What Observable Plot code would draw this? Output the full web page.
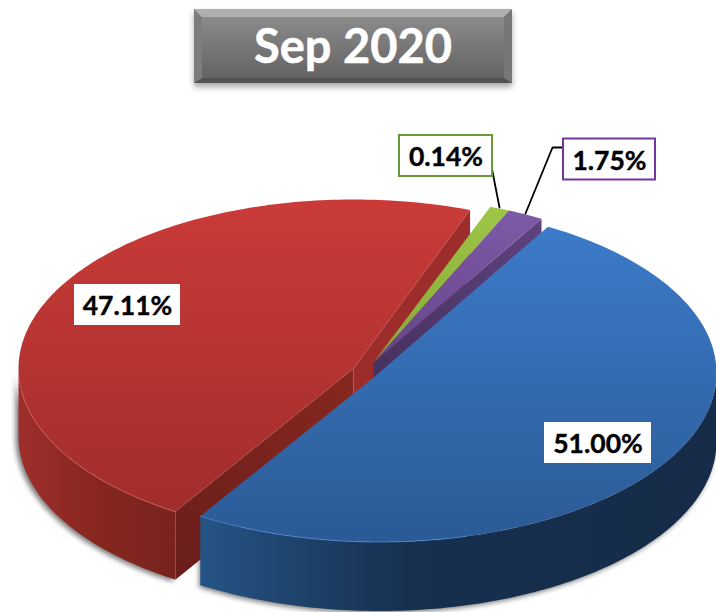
<!DOCTYPE html>
<html><head><meta charset="utf-8">
<script src="https://cdn.jsdelivr.net/npm/d3@7"></script>
<script src="https://cdn.jsdelivr.net/npm/@observablehq/plot@0.6"></script>
<style>
html,body{margin:0;padding:0;background:#fff;}
#wrap{position:relative;width:716px;height:612px;overflow:hidden;}
#title{position:absolute;left:194px;top:9px;width:318px;height:74px;box-sizing:border-box;margin:0;
 border-style:solid;border-width:8px 8px 5px 8px;border-color:#b0b0b0 #777 #525252 #7d7d7d;
 background:linear-gradient(#8a8a8a,#646464);box-shadow:0 4px 6px rgba(0,0,0,.35);
 color:#fff;font:700 47px Lato,sans-serif;text-align:center;line-height:57px;white-space:nowrap;
 -webkit-text-stroke:.5px #fff;}
svg{display:block;position:absolute;left:0;top:0;}
</style></head>
<body><div id="wrap"><h1 id="title">Sep 2020</h1></div>
<script>
// Chart values, in drawing order (clockwise from the start angle)
const categories = ["Blue", "Red", "Green", "Purple"];
const shares = [51.00, 47.11, 0.14, 1.75];
const tickLabels = ["51.00%", "47.11%", "0.14%", "1.75%"];
// The reference draws its smallest slice wider than its share: it takes about this many percent
const minDrawnShare = 0.95;
const startAngle = 30;

// Layout of the exploded 3-D pie, in pixels
const ellipses = {
  Blue:   {apex:[372,378], cx:379, cy:372.5, rx:337, ry:169, depth:69},
  Red:    {apex:[353,368], cx:353, cy:368,   rx:335, ry:169, depth:68},
  Green:  {apex:[373,362], cx:373, cy:362,   rx:336, ry:166, depth:68},
  Purple: {apex:[373,362], cx:373, cy:362,   rx:336, ry:166, depth:68}
};

const drawn = shares.map(v => Math.max(v, minDrawnShare));
const total = d3.sum(drawn);
let cursor = startAngle;
const slices = categories.map((name, i) => {
  const a0 = cursor, a1 = cursor + drawn[i] / total * 360;
  cursor = a1;
  return {name, a0, a1, label: tickLabels[i], ...ellipses[name]};
});
const bySlice = Object.fromEntries(slices.map(s => [s.name, s]));

const rad = a => a * Math.PI / 180;
const rim = (s, a, d = 0) => [s.cx + s.rx * Math.sin(rad(a)), s.cy - s.ry * Math.cos(rad(a)) + d];
const arc = (s, a0, a1, d = 0) => {
  const n = Math.max(2, Math.ceil(Math.abs(a1 - a0)));
  return d3.range(n + 1).map(i => rim(s, a0 + (a1 - a0) * i / n, d));
};
const topFace = s => [s.apex, ...arc(s, s.a0, s.a1)];
const wall = (s, a0, a1) => [...arc(s, a0, a1), ...arc(s, a1, a0, s.depth)];
const cutFace = (s, a) => [s.apex, rim(s, a), rim(s, a, s.depth), [s.apex[0], s.apex[1] + s.depth]];

const poly = (points, fill, extra = {}) => Plot.line(points, {x: d => d[0], y: d => d[1], fill, stroke: "none", curve: "linear", ...extra});
const edge = (points, stroke, width, opacity = 1) => Plot.line(points, {x: d => d[0], y: d => d[1], stroke, strokeWidth: width, strokeOpacity: opacity, curve: "linear"});

const blue = bySlice.Blue, red = bySlice.Red, green = bySlice.Green, purple = bySlice.Purple;

const stop = (o, c) => `<stop offset="${o}" stop-color="${c}"/>`;
const grad = (id, x1, y1, x2, y2, stops) =>
  `<linearGradient id="${id}" gradientUnits="userSpaceOnUse" x1="${x1}" y1="${y1}" x2="${x2}" y2="${y2}">${stops.map(s => stop(...s)).join("")}</linearGradient>`;
const defs = () => d3.create("svg:defs").html(
  grad("redTop", 0, 199, 0, 515, [[0, "#ca3b38"], [1, "#a02d2b"]]) +
  grad("blueTop", 0, 228, 0, 545, [[0, "#3c7bc9"], [1, "#2b5a95"]]) +
  grad("greenTop", 0, 206, 0, 362, [[0, "#9ec646"], [1, "#84a83a"]]) +
  grad("purpleTop", 0, 210, 0, 362, [[0, "#7d5aa6"], [1, "#654689"]]) +
  grad("redWall", 18, 0, 180, 0, [[0, "#9e2e2b"], [.5, "#86261f"], [1, "#772320"]]) +
  grad("blueWall", 199, 0, 716, 0, [[0, "#255485"], [.4, "#17304f"], [1, "#152b48"]]) +
  grad("redCut", 470, 208, 175, 560, [[0, "#a02e2c"], [.45, "#85281f"], [1, "#6c1e1b"]]) +
  grad("purpleCut", 541, 220, 373, 375, [[0, "#5f427f"], [1, "#46315f"]])
).node();

const shadow = (s, a0, a1, dx, dy) =>
  poly([...arc(s, a0, a1, 0), ...arc(s, a1, a0, s.depth)].map(p => [p[0] + dx, p[1] + dy]), "#000",
       {fillOpacity: .5, imageFilter: "blur(2.5px)"});

const boxW = {Blue: 107, Red: 106, Green: 93, Purple: 92};
const boxH = 41;
const textDrop = 2;
const callouts = {
  Blue:   {at: [597.5, 442.5], stroke: "none"},
  Red:    {at: [127, 304.5],   stroke: "none"},
  Green:  {at: [445.5, 155.5], stroke: "#699a38", leader: [[491, 166], [499, 207]]},
  Purple: {at: [609, 159],     stroke: "#7236a3", leader: [[563, 147], [552, 147], [525, 213]]}
};
const labels = slices.map(s => {
  const c = callouts[s.name];
  const [x, y] = c.at;
  const w = boxW[s.name];
  return {label: s.label, x, y: y + textDrop, x1: x - w / 2, x2: x + w / 2, y1: y - boxH / 2, y2: y + boxH / 2, stroke: c.stroke};
});

const chart = Plot.plot({
  width: 716, height: 612,
  margin: 0,
  x: {domain: [0, 716], range: [0, 716], axis: null},
  y: {domain: [0, 612], range: [0, 612], axis: null},
  style: {background: "transparent"},
  marks: [
    defs,
    shadow(red, 212, 270, -3, 2),
    shadow(blue, 90, 212, -2, 2),
    // red slice
    poly(wall(red, red.a0, 270), "url(#redWall)"),
    poly(cutFace(red, red.a1 - 360), "#9c2d2b"),
    poly(cutFace(red, red.a0), "url(#redCut)"),
    poly(topFace(red), "url(#redTop)"),
    edge(arc(red, red.a0, 262), "#d9605a", 1, .7),
    // green slice
    poly(topFace(green), "url(#greenTop)"),
    // purple slice
    poly(cutFace(purple, purple.a1), "url(#purpleCut)"),
    poly(topFace(purple), "url(#purpleTop)"),
    // blue slice
    poly(wall(blue, 90, blue.a1), "url(#blueWall)"),
    poly(topFace(blue), "url(#blueTop)"),
    edge(arc(blue, 165, blue.a1), "#4f8fdc", 1, .7),
    // leader lines and labels
    ...Object.values(callouts).filter(c => c.leader).map(c => edge(c.leader, "#000", 1.8)),
    Plot.rect(labels, {x1: "x1", x2: "x2", y1: "y1", y2: "y2", fill: "#fff", stroke: "stroke", strokeWidth: 2}),
    Plot.text(labels, {x: "x", y: "y", text: "label", fill: "#000", stroke: "#000", strokeWidth: .4, fontFamily: "Lato, sans-serif", fontWeight: 700, fontSize: 26.5, textAnchor: "middle", lineAnchor: "middle"})
  ]
});
document.getElementById("wrap").prepend(chart);
</script>
</body></html>
